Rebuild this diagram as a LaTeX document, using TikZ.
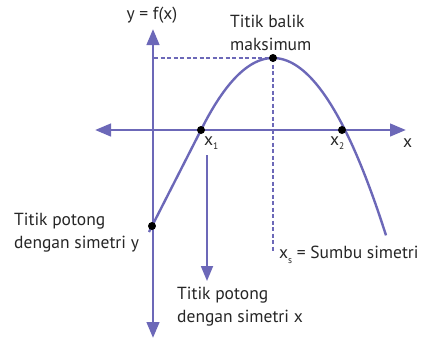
\documentclass[tikz,border=0pt]{standalone}
\usepackage{fontspec}
\setmainfont{PT Sans}
\usetikzlibrary{arrows.meta, positioning}
\definecolor{grafungu}{RGB}{108,104,184}
\newcommand{\sub}[1]{\raisebox{-4.5pt}{\fontsize{9.5}{9.5}\selectfont #1}}
\tikzset{
  axisline/.style={{Triangle[length=16pt,width=12.5pt]}-{Triangle[length=16pt,width=12.5pt]},
      line width=2.8pt, grafungu},
  curveline/.style={line width=2.4pt, grafungu},
  dashline/.style={line width=2.5pt, grafungu, dash pattern=on 4pt off 2.5pt},
  pointer/.style={-{Triangle[length=15pt,width=12pt]}, line width=1.8pt, grafungu},
  dotnode/.style={circle, fill=black, inner sep=0pt, minimum size=8pt},
  lbl/.style={font=\fontsize{17.5}{23}\selectfont, text=black!85, align=left, inner sep=0pt},
}

\begin{document}
\begin{tikzpicture}[x=1pt, y=-1pt]
      \useasboundingbox (0,0) rectangle (428,341);
      % sumbu
      \coordinate (ytop) at (153,29);
      \coordinate (ybot) at (153,338);
      \coordinate (xleft) at (95,130);
      \coordinate (xright) at (406,130);
      \draw[axisline] (ybot) -- (ytop);
      \draw[axisline] (xleft) -- (xright);
      % titik penting
      \coordinate (cmax) at (273,58);
      \coordinate (cx1) at (201,130);
      \coordinate (cx2) at (342,130);
      \coordinate (cyint) at (152,226);
      \coordinate (cstart) at (149,232);
      \coordinate (cmaxy) at (154,58);
      \coordinate (cmaxx) at (273,252);
      \draw[dashline] (cmaxy) -- (cmax);
      \draw[dashline] (cmax) -- (cmaxx);
      % kurva
      \draw[curveline] (cstart) -- (cx1)
        -- plot[domain=201:386, samples=80] (\x,{58+72*((\x-273)/72)^2});
      \node[dotnode] (pmax) at (cmax) {};
      \node[dotnode] (px1) at (cx1) {};
      \node[dotnode] (px2) at (cx2) {};
      \node[dotnode] (pyint) at (cyint) {};
      % label
      \node[lbl] (lblfx) at (152,15) {y = f(x)};
      \node[lbl, anchor=west] (lblmax) at (230,33) {Titik balik\\maksimum};
      \node[lbl, anchor=west] (lblx1) at (204,143) {x\sub{1}};
      \node[lbl, anchor=west] (lblx2) at (330,143) {x\sub{2}};
      \node[lbl, anchor=west] (lblx) at (403,143) {x};
      \node[lbl, anchor=west] (lblyint) at (14,233) {Titik potong\\dengan simetri y};
      \node[lbl, anchor=west] (lblxint) at (177,307) {Titik potong\\dengan simetri x};
      \node[lbl, anchor=west] (lblsym) at (279,255) {x\sub{s} = Sumbu simetri};
      % panah
      \coordinate (ptop) at (207,155);
      \coordinate (pbot) at (207,281);
      \draw[pointer] (ptop) -- (pbot);
    \end{tikzpicture}
\end{document}
